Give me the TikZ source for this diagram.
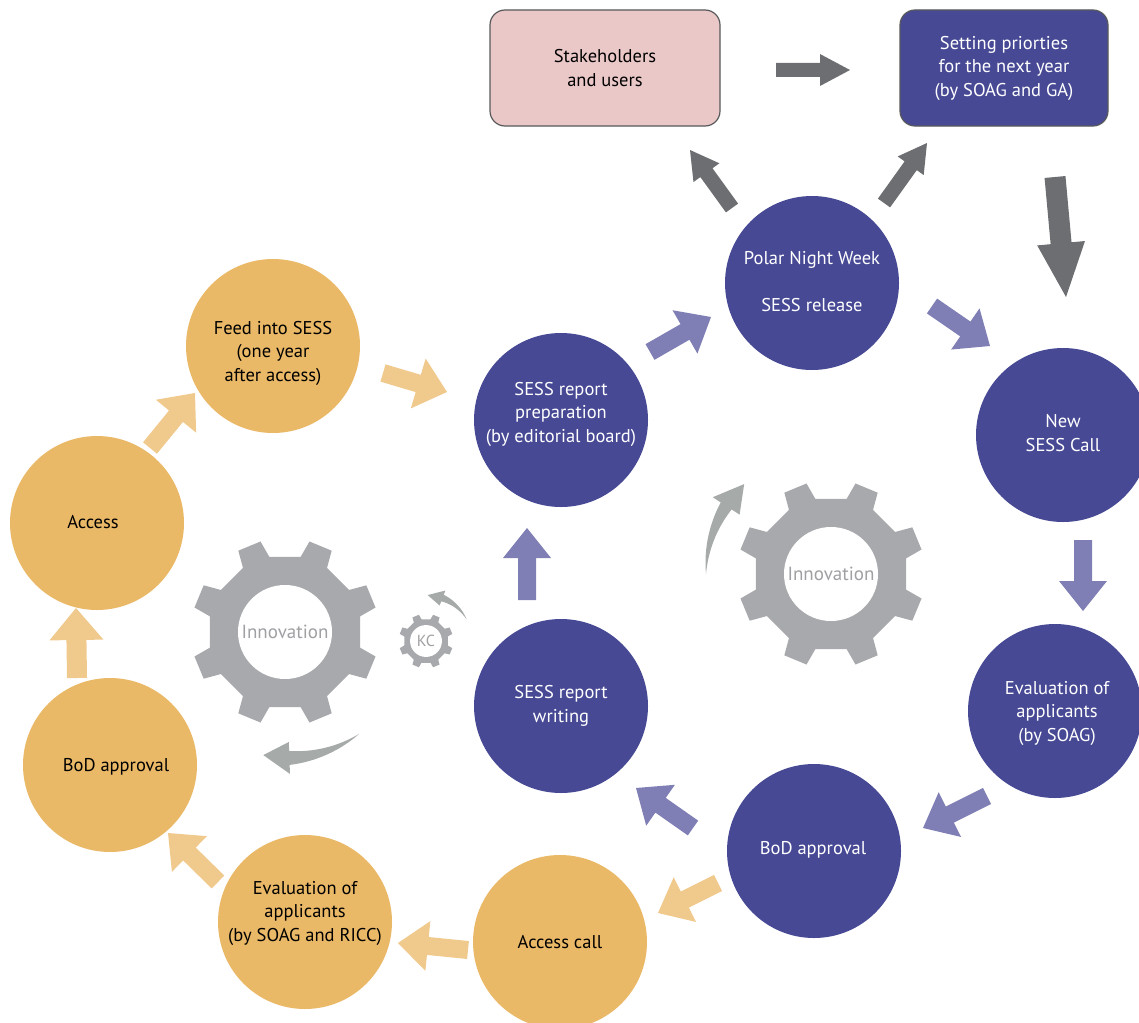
\documentclass[tikz,border=0pt]{standalone}
\usepackage{fontspec}
\setmainfont{PT Sans}
\usetikzlibrary{calc}
\definecolor{cpurple}{RGB}{71,73,148}
\definecolor{corange}{RGB}{234,185,104}
\definecolor{aorange}{RGB}{240,201,140}
\definecolor{apurple}{RGB}{127,127,181}
\definecolor{agray}{RGB}{109,110,113}
\definecolor{ggray}{RGB}{167,169,172}
\definecolor{gtextc}{RGB}{158,160,163}
\definecolor{cgray}{RGB}{166,171,169}
\definecolor{cpink}{RGB}{235,200,200}
\definecolor{boxline}{RGB}{88,89,91}
\newcommand{\blockarr}[6]{% color, tail, tip, shaft half, head half, head length
  \coordinate (hb) at ($(#3)!#6!(#2)$);
  \fill[#1] ($(#2)!#4!90:(#3)$) -- ($(hb)!#4!90:(#3)$) -- ($(hb)!#5!90:(#3)$) -- (#3)
    -- ($(hb)!#5!-90:(#3)$) -- ($(hb)!#4!-90:(#3)$) -- ($(#2)!#4!-90:(#3)$) -- cycle;}
\newcommand{\gearat}[3]{% centre, scale, hole radius (unscaled units)
  \begin{scope}[shift={(#1)}, scale=#2]
    \fill[ggray] (22.5:81.2) \foreach \a in {67.5,112.5,...,337.5}{ -- (\a:81.2)} -- cycle;
    \foreach \a in {22.5,67.5,...,337.5}{
      \fill[ggray, rotate=\a] (70,-15) -- (93,-12) -- (93,12) -- (70,15) -- cycle;}
    \fill[white] (0,0) circle (#3);
  \end{scope}}
\begin{document}
\begin{tikzpicture}[x=1pt,y=-1pt,
  circ/.style={circle, minimum size=174pt, inner sep=0pt, draw=none},
  pc/.style={circ, fill=cpurple},
  oc/.style={circ, fill=corange},
  ctext/.style={align=center, inner sep=0pt, font=\fontsize{18.5}{23.5}\selectfont},
  ptext/.style={ctext, text=white},
  otext/.style={ctext, text=black},
  gtext/.style={text=gtextc, inner sep=0pt, font=\fontsize{19}{22}\selectfont},
  kctext/.style={text=gtextc, inner sep=0pt, font=\fontsize{16}{18}\selectfont},
  boxst/.style={draw=boxline, line width=1.2pt, rounded corners=15pt, minimum width=#1, minimum height=116pt, align=center, font=\fontsize{18.5}{23.5}\selectfont},
  curv/.style={fill=cgray}
]
\useasboundingbox (0,0) rectangle (1139,1022);
\clip (0,0) rectangle (1139,1022);

% gears
\coordinate (gl) at (285,632);
\coordinate (gr) at (831,574);
\coordinate (gk) at (426,641);
\gearat{gl}{1}{47}
\gearat{gr}{1}{47}
\gearat{gk}{0.29}{55}
\node[gtext] (innovL) at (gl) {Innovation};
\node[gtext] (innovR) at (gr) {Innovation};
\node[kctext] (kc) at (gk) {KC};

% curved arrows
\begin{scope}[shift={(gr)}]
  \fill[curv] plot[domain=180:213, samples=25] (\x:{125+6.5*(\x-180)/33}) -- (213:141) -- (226:125) -- (213:109)
    -- plot[domain=213:180, samples=25] (\x:{125-6.5*(\x-180)/33}) -- cycle;
\end{scope}
\begin{scope}[shift={(gl)}]
  \fill[curv] plot[domain=54:88, samples=25] (\x:{126+7*(\x-54)/34}) -- (88:142) -- (100:125) -- (88:110)
    -- plot[domain=88:54, samples=25] (\x:{126-7*(\x-54)/34}) -- cycle;
\end{scope}
\begin{scope}[shift={(gk)}]
  \fill[curv] plot[domain=332:291, samples=20] (\x:{46+3.5*(332-\x)/41}) -- (291:54) -- (272:46) -- (291:38)
    -- plot[domain=291:332, samples=20] (\x:{46-3.5*(332-\x)/41}) -- cycle;
\end{scope}

% boxes
\node[boxst=230pt, fill=cpink, text=black] (stake) at (605,68) {Stakeholders\\and users};
\node[boxst=208pt, fill=cpurple, text=white] (setting) at (1004,68) {Setting priorties\\for the next year\\(by SOAG and GA)};

% circles
\node[pc] (polar) at (812,283) {};
\node[pc] (newcall) at (1063,435) {};
\node[pc] (evalp) at (1055,711) {};
\node[pc] (bodp) at (814,851) {};
\node[pc] (writing) at (561,706) {};
\node[pc] (prep) at (561,420) {};
\node[oc] (feed) at (273,346) {};
\node[oc] (access) at (97,523) {};
\node[oc] (bodo) at (110,765) {};
\node[oc] (evalo) at (305,922) {};
\node[oc] (acall) at (560,942) {};

\node[ptext] (polarT) at (812,282) {Polar Night Week\\[23.5pt]SESS release};
\node[ptext] (newT) at (1063,433) {New\\SESS Call};
\node[ptext] (evalpT) at (1057,713) {Evaluation of\\applicants\\(by SOAG)};
\node[ptext] (bodpT) at (813,850) {BoD approval};
\node[ptext] (writingT) at (561,706) {SESS report\\writing};
\node[ptext] (prepT) at (561,414) {SESS report\\preparation\\(by editorial board)};
\node[otext] (feedT) at (273,353) {Feed into SESS\\(one year\\after access)};
\node[otext] (accessT) at (93,522) {Access};
\node[otext] (bodoT) at (116,767) {BoD approval};
\node[otext] (evaloT) at (305,913) {Evaluation of\\applicants\\(by SOAG and RICC)};
\node[otext] (acallT) at (560,942) {Access call};

% arrow end points
\coordinate (g1a) at (776,70);   \coordinate (g1b) at (850,70);
\coordinate (g2a) at (732,208);  \coordinate (g2b) at (690,150);
\coordinate (g3a) at (884,203);  \coordinate (g3b) at (927,143);
\coordinate (g4a) at (1055,177); \coordinate (g4b) at (1066,297);
\coordinate (p1a) at (650,352);  \coordinate (p1b) at (711,317);
\coordinate (p2a) at (932,306);  \coordinate (p2b) at (990,346);
\coordinate (p3a) at (1083,540); \coordinate (p3b) at (1083,611);
\coordinate (p4a) at (987,796);  \coordinate (p4b) at (923,828);
\coordinate (p5a) at (693,828);  \coordinate (p5b) at (636,788);
\coordinate (p6a) at (527,600);  \coordinate (p6b) at (527,528);
\coordinate (o1a) at (718,883);  \coordinate (o1b) at (658,913);
\coordinate (o2a) at (468,950);  \coordinate (o2b) at (398,943);
\coordinate (o3a) at (218,882);  \coordinate (o3b) at (168,833);
\coordinate (o4a) at (77,678);   \coordinate (o4b) at (76,608);
\coordinate (o5a) at (150,448);  \coordinate (o5b) at (195,393);
\coordinate (o6a) at (383,373);  \coordinate (o6b) at (447,392);

\blockarr{agray}{g1a}{g1b}{7pt}{16pt}{30pt}
\blockarr{agray}{g2a}{g2b}{7.5pt}{16pt}{28pt}
\blockarr{agray}{g3a}{g3b}{7.5pt}{16pt}{28pt}
\blockarr{agray}{g4a}{g4b}{10.5pt}{24pt}{54pt}
\blockarr{apurple}{p1a}{p1b}{9pt}{25pt}{30pt}
\blockarr{apurple}{p2a}{p2b}{9pt}{25pt}{30pt}
\blockarr{apurple}{p3a}{p3b}{9pt}{24pt}{30pt}
\blockarr{apurple}{p4a}{p4b}{9pt}{25pt}{30pt}
\blockarr{apurple}{p5a}{p5b}{9pt}{25pt}{30pt}
\blockarr{apurple}{p6a}{p6b}{9pt}{24pt}{30pt}
\blockarr{aorange}{o1a}{o1b}{9pt}{25pt}{30pt}
\blockarr{aorange}{o2a}{o2b}{9pt}{25pt}{30pt}
\blockarr{aorange}{o3a}{o3b}{9pt}{25pt}{30pt}
\blockarr{aorange}{o4a}{o4b}{10pt}{27pt}{32pt}
\blockarr{aorange}{o5a}{o5b}{9pt}{26pt}{30pt}
\blockarr{aorange}{o6a}{o6b}{9pt}{26pt}{30pt}
\end{tikzpicture}
\end{document}
